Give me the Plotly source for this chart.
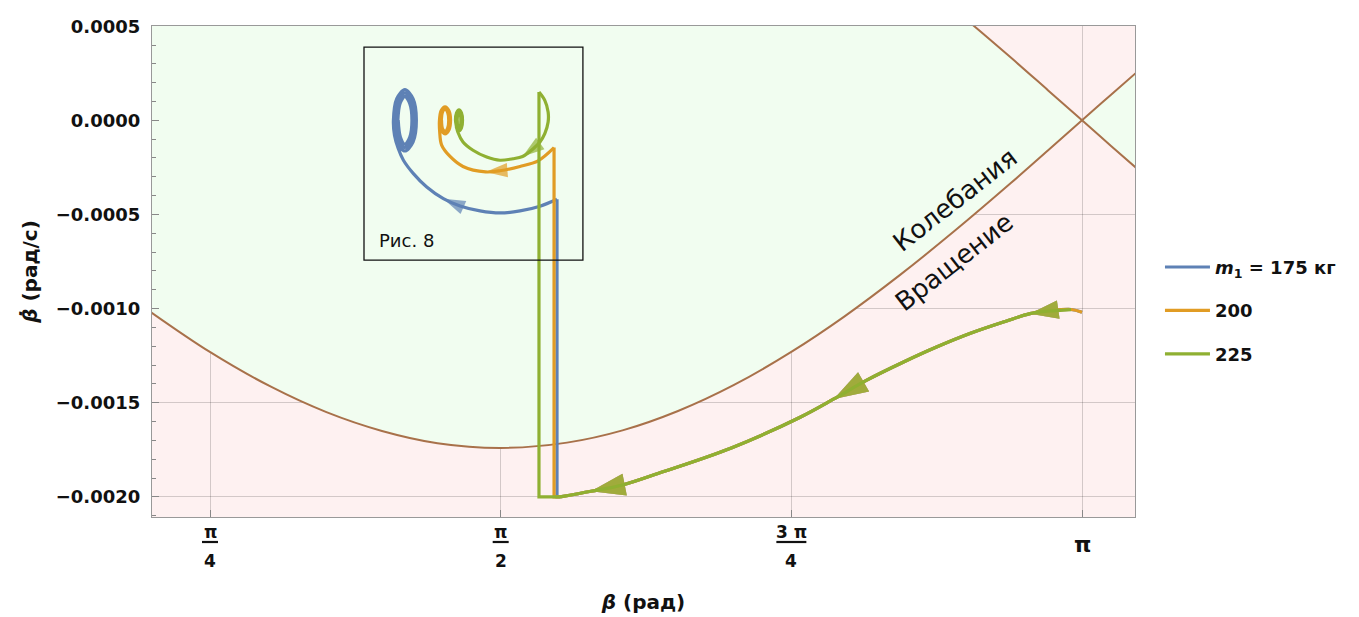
import plotly.graph_objects as go

# ---------------- data ----------------
x_range = [0.6287, 3.2847]
y_range = [-0.002107, 0.000501]

# separatrix (lower branch for beta < pi); the other branch is its mirror image
sep_beta = [0.62, 0.785, 0.95, 1.10, 1.25, 1.40, 1.571, 1.75, 1.90, 2.05, 2.20,
            2.356, 2.50, 2.65, 2.80, 2.95, 3.05, 3.1416, 3.22, 3.30]
sep_rate = [-0.001011, -0.00123, -0.001415, -0.00155, -0.00165, -0.001715, -0.00174,
            -0.001712, -0.001647, -0.001544, -0.001407, -0.00123, -0.001041, -0.000821,
            -0.000583, -0.000332, -0.000159, 0.0, 0.000136, 0.000274]

# common approach branch (all three runs overlap here)
approach_beta = [3.112, 3.047, 3.001, 2.936, 2.842, 2.750, 2.658, 2.560, 2.471, 2.380, 2.194,
                 2.009, 1.900, 1.815, 1.731]
approach_rate = [-0.001005, -0.001014, -0.001027, -0.001067, -0.00113, -0.001203, -0.001285,
                 -0.00138, -0.00148, -0.001577, -0.00174, -0.001867, -0.001937, -0.00197, -0.00200]
start_beta = [3.1416]
start_rate = [-0.00102]

# m1 = 175 kg
blue_drop_beta = [1.731, 1.723, 1.723]
blue_drop_rate = [-0.00200, -0.00200, -0.000419]
blue_arc_beta = [1.723, 1.677, 1.623, 1.569, 1.515, 1.461, 1.416, 1.371, 1.335, 1.308, 1.294]
blue_arc_rate = [-0.000419, -0.000456, -0.000481, -0.000492, -0.000481, -0.000455, -0.000416,
                 -0.000354, -0.000283, -0.000212, -0.00015]
blue_loop_beta = [1.284, 1.281, 1.290, 1.312, 1.334, 1.343, 1.334, 1.312, 1.290,
                  1.287, 1.294, 1.312, 1.330, 1.337, 1.330, 1.312, 1.294,
                  1.293, 1.299, 1.312, 1.325, 1.331, 1.325, 1.312, 1.300, 1.294]
blue_loop_rate = [-0.00008, 0.0, 0.000115, 0.000163, 0.000115, 0.0, -0.000115, -0.000163, -0.000115,
                  0.0, 0.000103, 0.000145, 0.000103, 0.0, -0.000103, -0.000145, -0.000103,
                  0.0, 0.00009, 0.000127, 0.00009, 0.0, -0.00009, -0.000127, -0.00009, 0.0]

# m1 = 200 kg
orange_drop_beta = [1.731, 1.715, 1.715]
orange_drop_rate = [-0.00200, -0.00200, -0.000145]
orange_arc_beta = [1.715, 1.672, 1.623, 1.569, 1.530, 1.469, 1.434, 1.411, 1.406]
orange_arc_rate = [-0.000145, -0.000215, -0.000245, -0.000268, -0.000274, -0.000245, -0.000192,
                   -0.00013, -0.00006]
orange_loop_beta = [1.4054, 1.4098, 1.4204, 1.4310, 1.4354, 1.4310, 1.4204, 1.4098,
                    1.4104, 1.4133, 1.4204, 1.4275, 1.4304, 1.4275, 1.4204, 1.4133, 1.4110]
orange_loop_rate = [0.0, 0.000051, 0.000072, 0.000051, 0.0, -0.000051, -0.000072, -0.000051,
                    0.0, 0.000042, 0.00006, 0.000042, 0.0, -0.000042, -0.00006, -0.000042, 0.0]

# m1 = 225 kg
green_drop_beta = [1.731, 1.6743, 1.6743]
green_drop_rate = [-0.00200, -0.00200, 0.00015]
green_arc_beta = [1.6743, 1.690, 1.699, 1.699, 1.690, 1.677, 1.658, 1.630, 1.604, 1.569,
                  1.533, 1.496, 1.469, 1.455, 1.451]
green_arc_rate = [0.00015, 0.000106, 0.000044, -0.000009, -0.000071, -0.000115, -0.000152,
                  -0.000192, -0.000204, -0.000212, -0.000195, -0.000159, -0.000115, -0.000062,
                  -0.00003]
green_loop_beta = [1.4487, 1.4515, 1.4582, 1.4649, 1.4677, 1.4649, 1.4582, 1.4515,
                   1.4532, 1.4547, 1.4582, 1.4617, 1.4632, 1.4617, 1.4582, 1.4547, 1.4535]
green_loop_rate = [0.0, 0.00004, 0.000056, 0.00004, 0.0, -0.00004, -0.000056, -0.00004,
                   0.0, 0.000032, 0.000045, 0.000032, 0.0, -0.000032, -0.000045, -0.000032, 0.0]

series_names = ["<b><i>m</i><sub>1</sub> = 175 кг</b>", "<b>200</b>", "<b>225</b>"]
series_colors = ["#5e81b5", "#e19c24", "#8fb032"]

approach_arrow_tips = [2, 8, 13]      # indices into approach arrays (arrow tips)
approach_arrow_sizes = [30, 36, 36]
inset_arrow_tips = [6, 4, 7]          # indices into each arc array

inset_box = [1.2015, 1.793, -0.000743, 0.000389]   # x0, x1, y0, y1
inset_label = "Рис. 8"

x_tickvals = [0.7854, 1.5708, 2.3562, 3.1416]
x_tick_num = ["π", "π", "3 π", "π"]
x_tick_den = ["4", "2", "4", ""]

region_labels = ["Колебания", "Вращение"]
region_label_beta = [2.798, 2.796]
region_label_rate = [-0.000425, -0.000754]

# ---------------- figure ----------------
SEP_COLOR = "#a8714a"
GREEN_FILL = "#f1fdf0"
PINK_BG = "#fef1f1"
FONT = "DejaVu Sans"

fig = go.Figure()

fig.add_trace(go.Scatter(x=sep_beta, y=sep_rate, mode="lines",
                         line=dict(color=SEP_COLOR, width=2, shape="spline"),
                         showlegend=False, hoverinfo="skip"))
fig.add_trace(go.Scatter(x=sep_beta, y=[-v for v in sep_rate], mode="lines",
                         line=dict(color=SEP_COLOR, width=2, shape="spline"),
                         fill="tonexty", fillcolor=GREEN_FILL,
                         showlegend=False, hoverinfo="skip"))

runs = [
    (start_beta, start_rate, blue_drop_beta, blue_drop_rate, blue_arc_beta, blue_arc_rate,
     blue_loop_beta, blue_loop_rate),
    (start_beta, start_rate, orange_drop_beta, orange_drop_rate, orange_arc_beta, orange_arc_rate,
     orange_loop_beta, orange_loop_rate),
    ([], [], green_drop_beta, green_drop_rate, green_arc_beta, green_arc_rate,
     green_loop_beta, green_loop_rate),
]

LW = 3.2
for i, (sb, sr, db, dr, ab, ar, lb, lr) in enumerate(runs):
    col = series_colors[i]
    grp = "g%d" % i
    fig.add_trace(go.Scatter(x=sb + approach_beta, y=sr + approach_rate, mode="lines",
                             line=dict(color=col, width=LW, shape="spline"),
                             name=series_names[i], legendgroup=grp, showlegend=True,
                             hoverinfo="skip"))
    fig.add_trace(go.Scatter(x=db, y=dr, mode="lines", line=dict(color=col, width=LW),
                             legendgroup=grp, showlegend=False, hoverinfo="skip"))
    fig.add_trace(go.Scatter(x=ab + lb, y=ar + lr, mode="lines",
                             line=dict(color=col, width=LW, shape="spline", smoothing=0.9),
                             legendgroup=grp, showlegend=False, hoverinfo="skip"))
    # arrowheads: marker oriented along the segment from the previous point
    heads = [(approach_beta, approach_rate, k, s)
             for k, s in zip(approach_arrow_tips, approach_arrow_sizes)]
    heads.append((ab, ar, inset_arrow_tips[i], 23))
    for xs, ys, k, sz in heads:
        fig.add_trace(go.Scatter(x=[xs[k - 1], xs[k]], y=[ys[k - 1], ys[k]], mode="markers",
                                 marker=dict(symbol="arrow", angleref="previous", size=[0, sz],
                                             color=col, line=dict(width=0)),
                                 legendgroup=grp, showlegend=False, hoverinfo="skip"))

annotations = []
# region labels
for t, bx, by in zip(region_labels, region_label_beta, region_label_rate):
    annotations.append(dict(x=bx, y=by, xref="x", yref="y", text=t, showarrow=False,
                            textangle=-38, font=dict(family=FONT, size=26, color="#111")))

# inset label
annotations.append(dict(x=inset_box[0], y=inset_box[2], xref="x", yref="y", text=inset_label,
                        showarrow=False, xanchor="left", yanchor="bottom", xshift=13, yshift=7,
                        font=dict(family=FONT, size=18, color="#111")))

# x tick labels (stacked fractions)
shapes = []
for v, num, den in zip(x_tickvals, x_tick_num, x_tick_den):
    if den:
        annotations.append(dict(x=v, y=0, xref="x", yref="paper", text="<b>%s</b>" % num,
                                showarrow=False, yanchor="middle", yshift=-15,
                                font=dict(family=FONT, size=17, color="#111")))
        annotations.append(dict(x=v, y=0, xref="x", yref="paper", text="<b>%s</b>" % den,
                                showarrow=False, yanchor="middle", yshift=-44,
                                font=dict(family=FONT, size=17, color="#111")))
        half = 8 if len(num) == 1 else 15
        shapes.append(dict(type="line", xref="x", yref="paper", xsizemode="pixel",
                           ysizemode="pixel", xanchor=v, yanchor=0, x0=-half, x1=half,
                           y0=-25, y1=-25, line=dict(color="#111", width=2.2)))
    else:
        annotations.append(dict(x=v, y=0, xref="x", yref="paper", text="<b>%s</b>" % num,
                                showarrow=False, yanchor="middle", yshift=-27,
                                font=dict(family=FONT, size=22, color="#111")))

shapes.append(dict(type="rect", xref="x", yref="y", x0=inset_box[0], x1=inset_box[1],
                   y0=inset_box[2], y1=inset_box[3], line=dict(color="#111", width=1.3),
                   fillcolor="rgba(0,0,0,0)", layer="above"))

fig.update_layout(
    width=1359, height=617,
    margin=dict(l=152, r=224, t=26, b=100, autoexpand=False),
    paper_bgcolor="white", plot_bgcolor=PINK_BG,
    font=dict(family=FONT, size=17, color="#111"),
    annotations=annotations, shapes=shapes,
    legend=dict(x=1.0254, y=0.42, xanchor="left", yanchor="middle",
                font=dict(family=FONT, size=18, color="#111"),
                tracegroupgap=17, itemwidth=45, bgcolor="rgba(0,0,0,0)"),
    showlegend=True,
)

fig.update_xaxes(range=x_range, tickmode="array", tickvals=x_tickvals, showticklabels=False,
                 ticks="inside", ticklen=7, tickcolor="#888",
                 showgrid=True, gridcolor="rgba(0,0,0,0.17)", gridwidth=1,
                 zeroline=False, showline=True, linecolor="#999", linewidth=1.3, mirror=True,
                 title=dict(text="<b><i>β</i> (рад)</b>", font=dict(family=FONT, size=20),
                            standoff=77))
fig.update_yaxes(range=y_range, tickmode="linear", tick0=0, dtick=0.0005, tickformat=".4f",
                 ticks="inside", ticklen=7, tickcolor="#888", ticklabelstandoff=7,
                 tickfont=dict(family=FONT, size=18, color="#111", weight="bold"),
                 minor=dict(dtick=0.0001, ticks="inside", ticklen=4, tickcolor="#888", showgrid=False),
                 showgrid=True, gridcolor="rgba(0,0,0,0.17)", gridwidth=1,
                 zeroline=True, zerolinecolor="#555", zerolinewidth=1.2,
                 showline=True, linecolor="#999", linewidth=1.3, mirror=True,
                 title=dict(text="<b><i>β̇</i> (рад/с)</b>", font=dict(family=FONT, size=20),
                            standoff=12))

fig.write_html("out.html")
